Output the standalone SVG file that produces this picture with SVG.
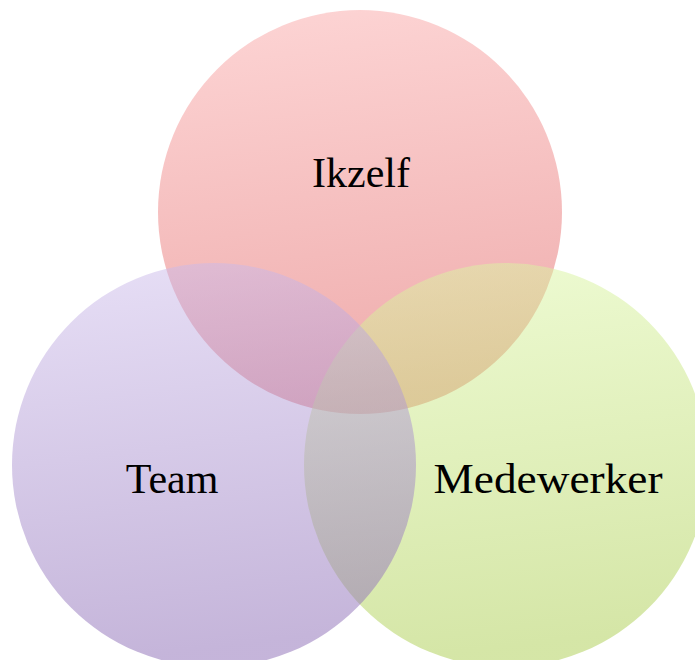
<svg xmlns="http://www.w3.org/2000/svg" width="695" height="660" viewBox="0 0 695 660">
  <defs>
    <linearGradient id="gPink" x1="0" y1="0" x2="0.12" y2="1">
      <stop offset="0" stop-color="rgb(251,171,171)"/>
      <stop offset="1" stop-color="rgb(223,91,91)"/>
    </linearGradient>
    <linearGradient id="gLavender" x1="0" y1="0" x2="0.12" y2="1">
      <stop offset="0" stop-color="rgb(207,191,237)"/>
      <stop offset="1" stop-color="rgb(139,107,181)"/>
    </linearGradient>
    <linearGradient id="gGreen" x1="0" y1="0" x2="0.12" y2="1">
      <stop offset="0" stop-color="rgb(221,247,167)"/>
      <stop offset="1" stop-color="rgb(171,205,79)"/>
    </linearGradient>
  </defs>
  <style>
    .set { fill-opacity: 0.5; stroke: none; }
    .label { font-family: "Liberation Serif", "Times New Roman", serif; font-size: 42px; fill: #000; text-anchor: middle; }
  </style>
  <rect width="695" height="660" fill="#ffffff"/>
  <!-- stacking order: top set, then right set, then left set -->
  <g id="ikzelf">
    <circle class="set" cx="360" cy="212" r="202" fill="url(#gPink)"/>
  </g>
  <g id="medewerker">
    <circle class="set" cx="506" cy="465" r="202" fill="url(#gGreen)"/>
  </g>
  <g id="team">
    <circle class="set" cx="214" cy="465" r="202" fill="url(#gLavender)"/>
  </g>
  <g id="labels">
    <text class="label" x="361" y="187">Ikzelf</text>
    <text class="label" x="172" y="493">Team</text>
    <text class="label" x="548" y="493" textLength="229" lengthAdjust="spacingAndGlyphs">Medewerker</text>
  </g>
  <g id="connectors"/>
</svg>
